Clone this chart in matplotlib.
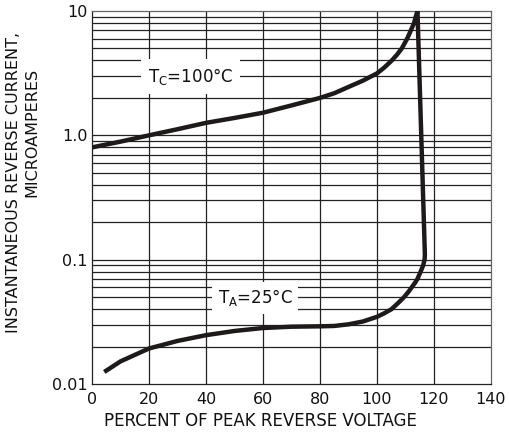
import matplotlib
matplotlib.use("Agg")
import matplotlib.pyplot as plt

# T_C = 100 C curve (percent of peak reverse voltage, microamperes)
tc_x = [0, 10, 20, 30, 40, 50, 60, 70, 80, 85, 90, 95, 100, 102.5, 105.2, 107, 108.7, 110.6, 111.9, 113.0, 113.6, 114.2]
tc_y = [0.80, 0.89, 1.0, 1.12, 1.26, 1.38, 1.52, 1.74, 2.0, 2.18, 2.45, 2.75, 3.15, 3.5, 4.0, 4.45, 5.0, 6.0, 7.0, 8.0, 9.0, 10.0]

# breakdown drop between the two curves
drop_x = [114.2, 116.8]
drop_y = [10.0, 0.11]

# T_A = 25 C curve
ta_x = [4.3, 10, 20, 30, 40, 50, 60, 70, 80, 85, 90, 95, 100, 102.5, 105.1, 107.5, 109.5, 111, 112.2, 113.3, 114.2, 115.3, 116.2, 116.7, 116.8]
ta_y = [0.0125, 0.0152, 0.0193, 0.0222, 0.0247, 0.0267, 0.0282, 0.0289, 0.0291, 0.0293, 0.0302, 0.0318, 0.0347, 0.037, 0.040, 0.045, 0.050, 0.055, 0.060, 0.065, 0.070, 0.080, 0.090, 0.100, 0.11]

x_ticks = [0, 20, 40, 60, 80, 100, 120, 140]
y_ticks = [0.01, 0.1, 1.0, 10]
y_ticklabels = ["0.01", "0.1", "1.0", "10"]

plt.rcParams['font.family'] = ['DejaVu Sans']
plt.rcParams['mathtext.fontset'] = 'dejavusans'
fig = plt.figure(figsize=(5.10, 4.34), dpi=100)
ax = fig.add_axes([92/510, 1 - 384/434, (491-92)/510, (384-11)/434])
ax.set_yscale('log')
ax.set_xlim(0, 140)
ax.set_ylim(0.01, 10)

ink = '#1e1a1a'
# grid
for dec in [0.01, 0.1, 1.0]:
    for m in range(1, 10):
        v = dec * m
        if 0.01 < v < 10:
            ax.axhline(v, color='#222222', lw=0.9, zorder=1)
for xv in x_ticks[1:-1]:
    ax.axvline(xv, color='#222222', lw=0.9, zorder=1)

path_x = tc_x + drop_x[1:] + ta_x[::-1][1:]
path_y = tc_y + drop_y[1:] + ta_y[::-1][1:]
ax.plot(path_x, path_y, color=ink, lw=3.2, solid_capstyle='butt',
        solid_joinstyle='round', zorder=3)

ax.text(34.5, 3.0, r"T$_\mathregular{C}$=100°C", ha='center', va='center', fontsize=12,
        color='#111111', bbox=dict(facecolor='white', edgecolor='none', pad=5), zorder=4)
ax.text(57.3, 0.0495, r"T$_\mathregular{A}$=25°C", ha='center', va='center', fontsize=12,
        color='#111111', bbox=dict(facecolor='white', edgecolor='none', pad=4), zorder=4)

ax.set_xticks(x_ticks)
ax.set_xticklabels([str(v) for v in x_ticks], fontsize=11.5, color='#111111')
ax.set_yticks(y_ticks)
ax.set_yticklabels(y_ticklabels, fontsize=11.5, color='#111111')
ax.yaxis.set_minor_locator(matplotlib.ticker.NullLocator())
ax.tick_params(axis='x', length=0, pad=6)
ax.tick_params(axis='y', length=0, pad=3)
for s in ax.spines.values():
    s.set_color('#666666')
    s.set_linewidth(0.9)
ax.spines['left'].set_color('#222222')
ax.spines['bottom'].set_color('#222222')

fig.text(260/510, 1 - 421/434, "PERCENT OF PEAK REVERSE VOLTAGE", ha='center', va='center',
         fontsize=12, color='#111111')
fig.text(14/510, 1 - 182/434, "INSTANTANEOUS REVERSE CURRENT,", ha='center', va='center',
         rotation=90, fontsize=11.5, color='#111111')
fig.text(32/510, 1 - 132/434, "MICROAMPERES", ha='center', va='center',
         rotation=90, fontsize=11.5, color='#111111')

fig.savefig("out.png", dpi=100)
